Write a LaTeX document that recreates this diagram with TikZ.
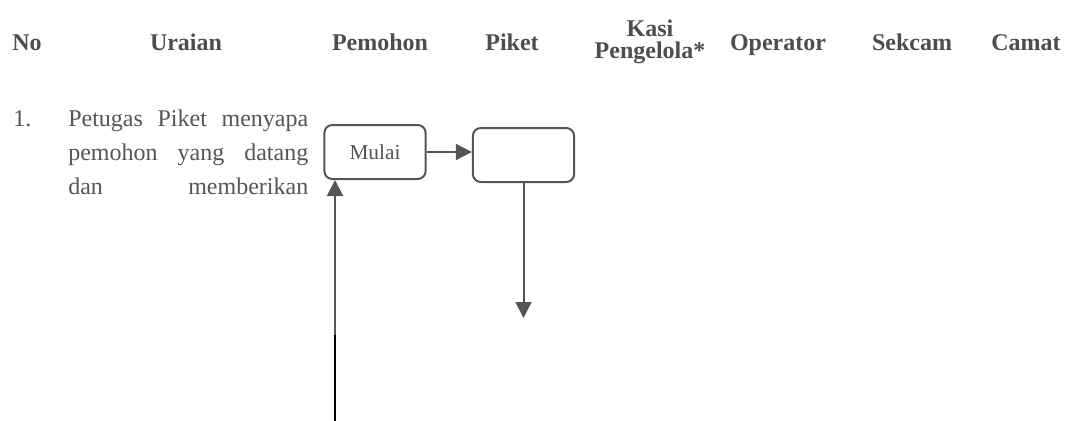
\documentclass[tikz,border=0pt]{standalone}
\usepackage{fontspec}
\setmainfont{Liberation Serif}
\usepackage{tikz}
\usetikzlibrary{arrows.meta}
\definecolor{flowgray}{HTML}{555555}
\definecolor{headgray}{HTML}{4D4D4D}
\tikzset{
  kolom/.style={font=\fontsize{18}{16.5}\selectfont\bfseries, text=headgray, inner sep=0pt, anchor=base},
  isi/.style={font=\fontsize{18}{25.5}\selectfont, text=flowgray, inner sep=0pt},
  kotak/.style={draw=flowgray, line width=1.5pt, rounded corners=6pt, minimum width=76pt, minimum height=40.5pt, inner sep=0pt, font=\fontsize{16}{19}\selectfont, text=flowgray},
  panah/.style={draw=flowgray, line width=1.5pt, -{Triangle[length=12pt,width=12pt]}},
}

\begin{document}
\begin{tikzpicture}[x=0.75pt, y=-0.75pt]
    \useasboundingbox (0,0) rectangle (1089,421);
    % kepala tabel
    \node[kolom, anchor=base west] (no) at (12,50) {No};
    \node[kolom] (uraian) at (186,50) {Uraian};
    \node[kolom] (pemohon) at (380,50) {Pemohon};
    \node[kolom] (piket) at (512,50) {Piket};
    \node[kolom, anchor=north, align=center] (kasi) at (650,20) {Kasi\\Pengelola*};
    \node[kolom] (operator) at (778,50) {Operator};
    \node[kolom] (sekcam) at (912,50) {Sekcam};
    \node[kolom] (camat) at (1026,50) {Camat};
    % langkah 1
    \node[isi, anchor=base west] (nomor1) at (13,126) {1.};
    \node[isi, anchor=north west, text width=180pt, align=justify] (uraian1) at (68,110)
        {Petugas Piket menyapa\linebreak pemohon yang datang\linebreak dan\hfill memberikan};
    \node[kotak] (mulai) at (375,152) {Mulai};
    \node[kotak] (piket1) at (523.5,155) {};
    \coordinate (bawah1) at (522,318);
    \coordinate (balik) at (335,421);
    \coordinate (balik tengah) at (335,335);
    \draw[panah] (mulai.east) -- (mulai.east -| piket1.west);
    \draw[panah] (piket1.south) -- (piket1.south |- bawah1);
    \draw[black, line width=1.5pt] (balik) -- (balik tengah);
    \draw[panah] (balik tengah) -- (balik tengah |- mulai.south);
\end{tikzpicture}
\end{document}
